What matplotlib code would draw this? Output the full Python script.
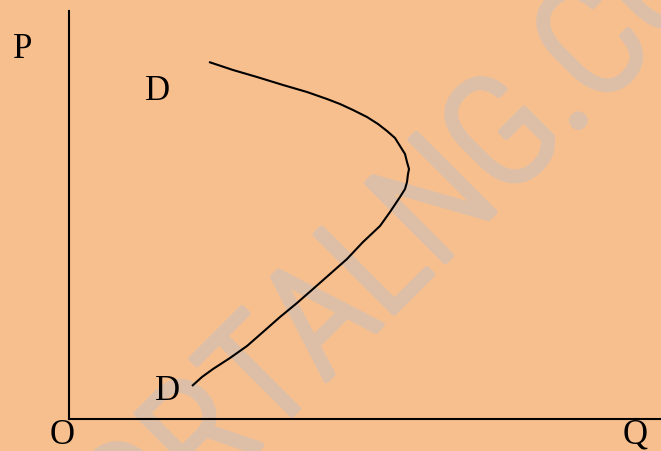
import numpy as np
import matplotlib
matplotlib.use("Agg")
import matplotlib.pyplot as plt
from matplotlib.font_manager import FontProperties
from matplotlib.transforms import IdentityTransform
import matplotlib.patheffects as pe

# ---- data (Q = quantity, P = price) ----
curve_q = [140, 164, 188, 214, 238, 258, 271, 284, 298, 309, 318, 326, 331, 336, 338, 340, 339, 338, 336, 331,
           321, 311, 294, 278, 261, 244, 228, 211, 194, 178, 161, 144, 133, 123]
curve_p = [357, 349, 342, 334, 327, 320, 315, 309, 302, 295, 288, 281, 273, 265, 257, 250, 245, 237, 230, 222,
           207, 193, 177, 160, 145, 130, 116, 102, 87, 73, 61, 50, 42, 33]
axis_labels = {"P": (-56, 362), "O": (-19, -24), "Q": (554, -24)}
curve_labels = [("D", (76, 320)), ("D", (86, 20))]
watermark = "PORTALNG.COM"

BG = "#F8BF8E"
WM = "#DDBFA8"

W, H = 661, 452
fig = plt.figure(figsize=(W / 100, H / 100), dpi=100, facecolor=BG)
x0, y0 = 69, 420   # origin in image pixels
ax = fig.add_axes([x0 / W, (H - y0) / H, (W - x0) / W, (y0 - 12) / H])
ax.set_xlim(0, W - x0)
ax.set_ylim(0, y0 - 12)
ax.set_facecolor("none")
for s in ("top", "right"):
    ax.spines[s].set_visible(False)
for s in ("left", "bottom"):
    ax.spines[s].set_linewidth(1.5)
    ax.spines[s].set_color("black")
ax.set_xticks([])
ax.set_yticks([])

ax.plot(curve_q, curve_p, color="black", lw=1.5, zorder=3, solid_capstyle="butt")

serif = ["Liberation Serif", "DejaVu Serif"]
for t, (qx, py) in axis_labels.items():
    ax.text(qx, py, t, fontsize=25, family=serif, ha="left", va="baseline", clip_on=False, zorder=4)
for t, (qx, py) in curve_labels:
    ax.text(qx, py, t, fontsize=25, family=serif, ha="left", va="baseline", clip_on=False, zorder=4)

# ---- watermark ----
wm_family = ["Roboto Condensed", "Liberation Sans Narrow", "DejaVu Sans"]
wm_weight = 300

renderer = fig.canvas.get_renderer()
f0 = 100.0
prop0 = FontProperties(family=wm_family, size=f0, weight=wm_weight)
def wid(s, prop):
    return renderer.get_text_width_height_descent(s, prop, ismath=False)[0]
tc = (wid("POR", prop0) + wid("PORT", prop0)) / 2
dc = (wid("PORTALNG", prop0) + wid("PORTALNG.", prop0)) / 2
f_space = f0 * 354.0 / (dc - tc)
f_cap = 132.0 * 72 / (0.711 * 100)
fs = f_space ** 0.55 * f_cap ** 0.45
k = fs / f0
d = (tc + dc) / 2 * k
axp, ayp = 439.0, H - 269.0
ang = np.deg2rad(45)
sx, sy = axp - d * np.cos(ang), ayp - d * np.sin(ang)
wt = ax.text(sx, sy, watermark, color=WM, fontsize=fs, family=wm_family, fontweight=wm_weight,
             rotation=45, rotation_mode="anchor", ha="left", va="baseline",
             transform=IdentityTransform(), zorder=1, clip_on=False)
wt.set_path_effects([pe.withStroke(linewidth=4, foreground=WM, joinstyle="round", capstyle="round")])

fig.savefig("out.png", dpi=100, facecolor=BG)
